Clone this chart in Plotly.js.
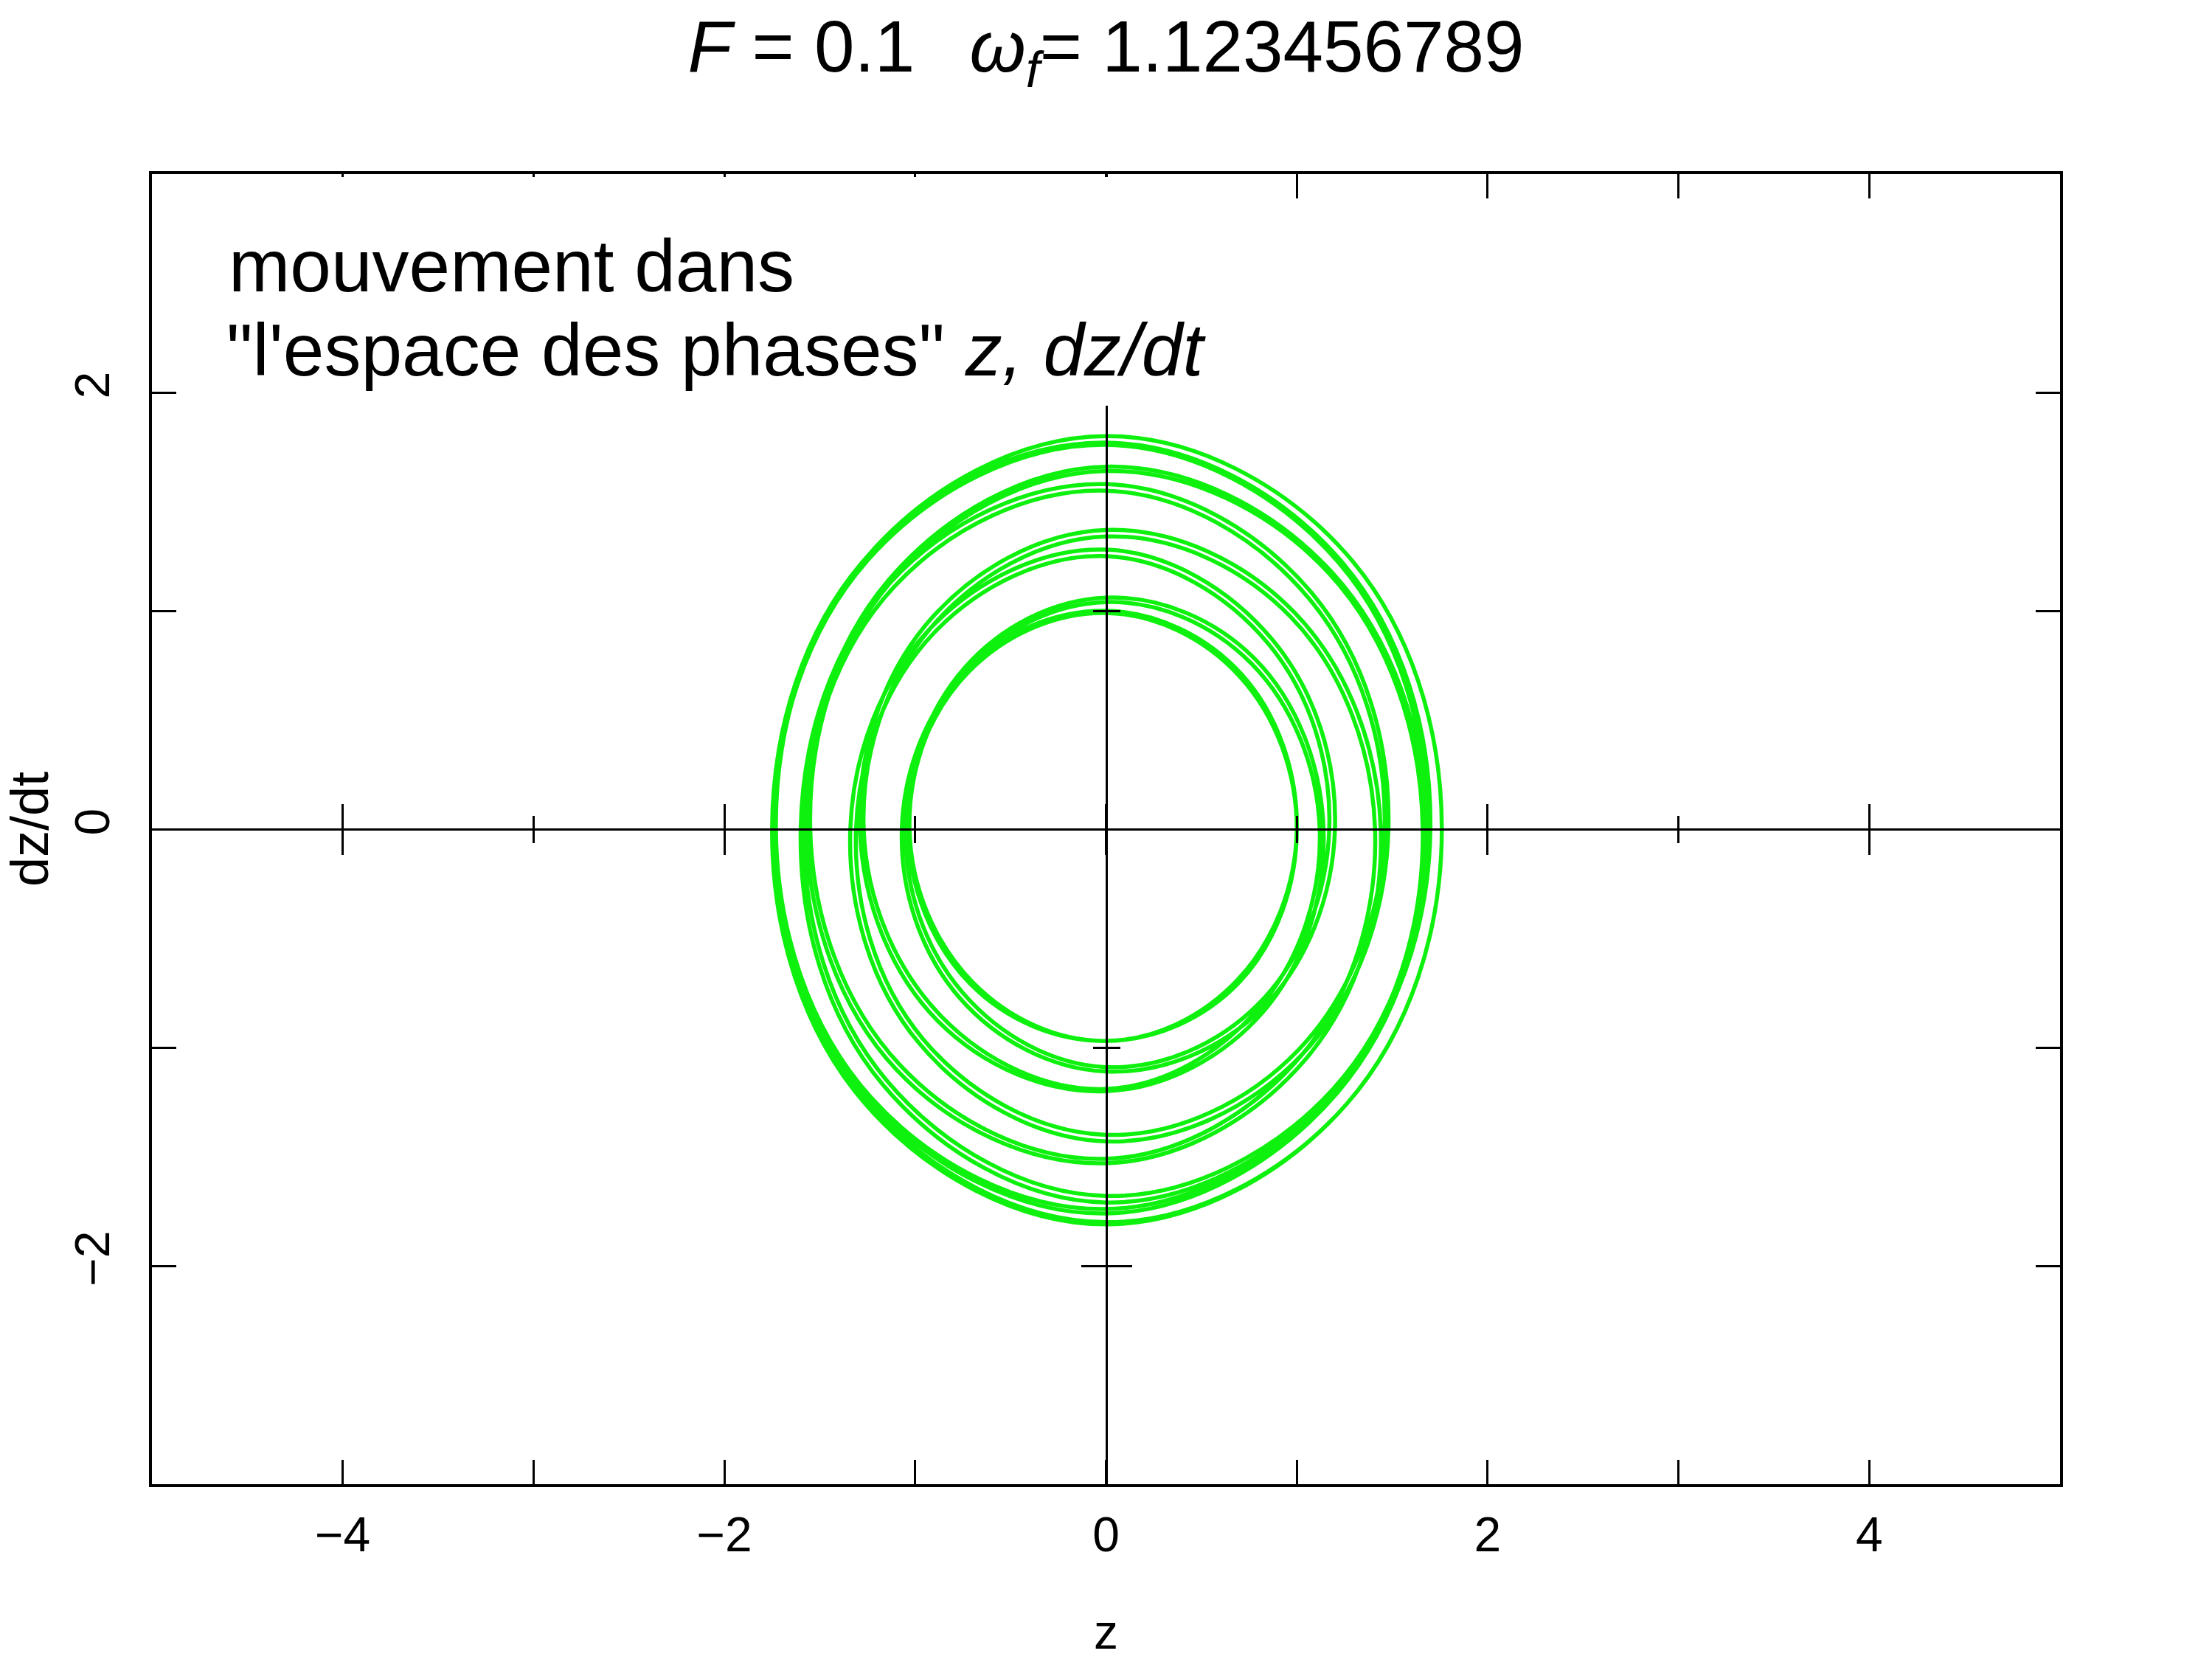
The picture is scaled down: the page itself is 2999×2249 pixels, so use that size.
<!DOCTYPE html>
<html>
<head>
<meta charset="utf-8">
<script src="https://cdn.plot.ly/plotly-3.0.1.min.js"></script>
<style>
html, body { margin: 0; padding: 0; background: #ffffff; }
#chart { width: 2999px; height: 2249px; }
</style>
</head>
<body>
<div id="chart"></div>
<script>
// Trajectory: z (horizontal) and dz/dt (vertical),
// eight points per revolution (right, lower-right, bottom, lower-left, left, upper-left, top, upper-right)
const zValues = [
  1.76, 1.26, 0, -1.25, -1.74, -1.24, 0, 1.22,
  1.68, 1.19, 0, -1.15, -1.58, -1.11, 0, 1.06,
  1.46, 1.01, 0, -0.96, -1.31, -0.90, 0, 0.85,
  1.17, 0.80, 0, -0.75, -1.05, -0.72, 0, 0.70,
  1.00, 0.70, 0, -0.71, -1.04, -0.74, 0, 0.78,
  1.14, 0.83, 0, -0.88, -1.29, -0.94, 0, 0.99,
  1.44, 1.05, 0, -1.10, -1.57, -1.14, 0, 1.18,
  1.68, 1.21, 0, -1.24, -1.74, -1.25, 0, 1.26,
  1.76, 1.26, 0, -1.26, -1.75, -1.25, 0, 1.23,
  1.70, 1.20, 0, -1.17, -1.60, -1.13, 0, 1.08,
  1.48, 1.03, 0, -0.98, -1.34, -0.92, 0, 0.87,
  1.20, 0.82, 0, -0.77, -1.07, -0.73, 0, 0.71,
  1.00, 0.69, 0, -0.70, -1.03, -0.73, 0, 0.76,
  1.12, 0.81, 0, -0.86, -1.27, -0.92, 0, 0.97,
  1.41, 1.03, 0, -1.08, -1.55, -1.13, 0, 1.17,
  1.66, 1.20, 0, -1.23, -1.73, -1.25, 0, 1.26,
  1.76
];
const dzdtValues = [
  0, -1.26, -1.80, -1.25, 0, 1.24, 1.76, 1.22,
  0, -1.19, -1.68, -1.15, 0, 1.11, 1.55, 1.06,
  0, -1.01, -1.40, -0.96, 0, 0.90, 1.25, 0.85,
  0, -0.80, -1.09, -0.75, 0, 0.72, 0.99, 0.70,
  0, -0.70, -0.97, -0.71, 0, 0.74, 1.06, 0.78,
  0, -0.83, -1.20, -0.88, 0, 0.94, 1.37, 0.99,
  0, -1.05, -1.53, -1.10, 0, 1.14, 1.66, 1.18,
  0, -1.21, -1.76, -1.24, 0, 1.25, 1.80, 1.26,
  0, -1.26, -1.81, -1.26, 0, 1.25, 1.77, 1.23,
  0, -1.20, -1.71, -1.17, 0, 1.13, 1.58, 1.08,
  0, -1.03, -1.43, -0.98, 0, 0.92, 1.28, 0.87,
  0, -0.82, -1.11, -0.77, 0, 0.73, 1.00, 0.71,
  0, -0.69, -0.97, -0.70, 0, 0.73, 1.04, 0.76,
  0, -0.81, -1.19, -0.86, 0, 0.92, 1.34, 0.97,
  0, -1.03, -1.51, -1.08, 0, 1.13, 1.64, 1.17,
  0, -1.20, -1.74, -1.23, 0, 1.25, 1.80, 1.26,
  0
];

const xRange = [-5, 5];
const yRange = [-3, 3];
const xTickVals = [-4, -2, 0, 2, 4];
const xMinorVals = [-3, -1, 1, 3];
const yTickVals = [-2, 0, 2];
const yMinorVals = [-1, 1];

const titleText = '<i>F</i> = 0.1\u00a0\u00a0\u2009<i>\u03c9<sub>f</sub></i>= 1.123456789';
const noteLine1 = 'mouvement dans';
const noteLine2 = '"l\'espace des phases" <i>z, dz/dt</i>';
const xTitle = 'z';
const yTitle = 'dz/dt';

const FONT = '"Liberation Sans", Arial, Helvetica, sans-serif';
const W = 2999, H = 2249;
const M = { l: 206, r: 206, t: 236, b: 237 };
const PW = W - M.l - M.r, PH = H - M.t - M.b;

const tickFont = { family: FONT, size: 66, color: '#000000' };

function centerAxis(base, dir, vals, minorVals, range) {
  return Object.assign({
    anchor: 'free', position: 0.5, range: range,
    showline: true, linecolor: '#000000', linewidth: 3,
    ticks: dir, ticklen: 33, tickwidth: 3, tickcolor: '#000000',
    tickmode: 'array', tickvals: vals,
    minor: { tickmode: 'array', tickvals: minorVals, ticks: dir, ticklen: 17, tickwidth: 3, tickcolor: '#000000', showgrid: false },
    showticklabels: false, showgrid: false, zeroline: false, fixedrange: true
  }, base);
}

const traces = [
  {
    type: 'scatter', mode: 'lines',
    x: zValues, y: dzdtValues,
    xaxis: 'x', yaxis: 'y',
    line: { color: '#0ef00e', width: 5.5, shape: 'spline', smoothing: 1.1 },
    hoverinfo: 'skip', showlegend: false
  },
  { type: 'scatter', mode: 'lines', x: [null], y: [null], xaxis: 'x2', yaxis: 'y', hoverinfo: 'skip', showlegend: false },
  { type: 'scatter', mode: 'lines', x: [null], y: [null], xaxis: 'x3', yaxis: 'y', hoverinfo: 'skip', showlegend: false },
  { type: 'scatter', mode: 'lines', x: [null], y: [null], xaxis: 'x', yaxis: 'y2', hoverinfo: 'skip', showlegend: false },
  { type: 'scatter', mode: 'lines', x: [null], y: [null], xaxis: 'x', yaxis: 'y3', hoverinfo: 'skip', showlegend: false }
];

const layout = {
  width: W, height: H,
  margin: M,
  paper_bgcolor: '#ffffff', plot_bgcolor: '#ffffff',
  showlegend: false,
  title: {
    text: titleText,
    font: { family: FONT, size: 98, color: '#000000' },
    xref: 'container', x: 0.5, xanchor: 'center',
    yref: 'container', y: 1 - 63 / H, yanchor: 'middle'
  },
  xaxis: {
    range: xRange, showline: true, linecolor: '#000000', linewidth: 4, mirror: 'allticks',
    ticks: 'inside', ticklen: 33, tickwidth: 3, tickcolor: '#000000',
    tickmode: 'array', tickvals: xTickVals,
    minor: { tickmode: 'array', tickvals: xMinorVals, ticks: 'inside', ticklen: 17, tickwidth: 3, tickcolor: '#000000', showgrid: false },
    tickfont: tickFont, ticklabelstandoff: 8,
    showgrid: false, zeroline: false, fixedrange: true,
    title: { text: xTitle, font: { family: FONT, size: 66, color: '#000000' }, standoff: 90 }
  },
  yaxis: {
    range: yRange, showline: true, linecolor: '#000000', linewidth: 4, mirror: 'allticks',
    ticks: 'inside', ticklen: 33, tickwidth: 3, tickcolor: '#000000',
    tickmode: 'array', tickvals: yTickVals,
    minor: { tickmode: 'array', tickvals: yMinorVals, ticks: 'inside', ticklen: 17, tickwidth: 3, tickcolor: '#000000', showgrid: false },
    tickfont: tickFont, tickangle: -90, ticklabelstandoff: 28,
    showgrid: false, zeroline: false, fixedrange: true,
    title: { text: yTitle, font: { family: FONT, size: 72, color: '#000000' }, standoff: 40 }
  },
  xaxis2: centerAxis({ overlaying: 'x', side: 'bottom' }, 'outside', xTickVals, xMinorVals, xRange),
  xaxis3: centerAxis({ overlaying: 'x', side: 'bottom' }, 'inside', xTickVals, xMinorVals, xRange),
  yaxis2: centerAxis({ overlaying: 'y', side: 'left' }, 'outside', yTickVals, yMinorVals, yRange),
  yaxis3: centerAxis({ overlaying: 'y', side: 'left' }, 'inside', yTickVals, yMinorVals, yRange),
  annotations: [
    {
      text: noteLine1, showarrow: false,
      xref: 'paper', yref: 'paper',
      x: 40 / PW, xanchor: 'left',
      y: (PH - 4) / PH, yanchor: 'top',
      width: 1160, align: 'left',
      bgcolor: '#ffffff', borderpad: 64, borderwidth: 0,
      font: { family: FONT, size: 100, color: '#000000' }
    },
    {
      text: noteLine2, showarrow: false,
      xref: 'paper', yref: 'paper',
      x: 81 / PW, xanchor: 'left',
      y: (PH - (550 - M.t)) / PH, yanchor: 'bottom',
      align: 'left',
      bgcolor: '#ffffff', borderpad: 20, borderwidth: 0,
      font: { family: FONT, size: 100, color: '#000000' }
    }
  ]
};

Plotly.newPlot('chart', traces, layout, { staticPlot: true, displayModeBar: false });
</script>
</body>
</html>
